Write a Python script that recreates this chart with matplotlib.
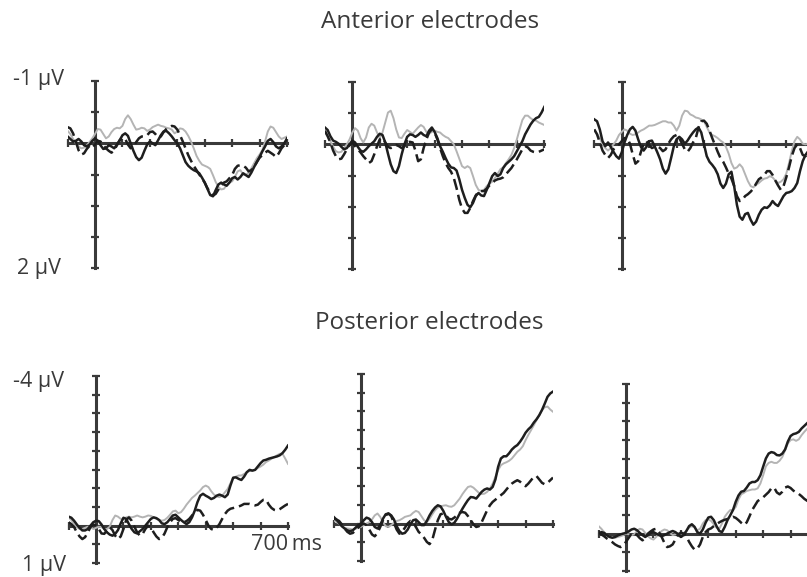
import numpy as np
import matplotlib
matplotlib.use("Agg")
import matplotlib.pyplot as plt

plt.rcParams['font.family'] = ['Open Sans', 'DejaVu Sans']

# time axis (ms), one sample every 10 ms
time_ms = np.arange(-100, 701, 10)

# ---- anterior electrodes (uV, negative plotted up) ----
ant1_solid = [-0.11, -0.07, -0.03, -0.04, -0.07, -0.03, 0.03, 0.05, 0.02, -0.04,
              -0.08, -0.04, 0.03, 0.09, 0.08, 0.03, 0.05, 0.08, 0.02, -0.05,
              -0.13, -0.16, -0.12, 0.0, 0.12, 0.22, 0.27, 0.23, 0.12, 0.02,
              -0.03, 0.0, 0.03, -0.05, -0.13, -0.19, -0.2, -0.16, -0.11, -0.05,
              0.0, 0.08, 0.19, 0.3, 0.36, 0.4, 0.43, 0.45, 0.48, 0.55,
              0.63, 0.73, 0.83, 0.85, 0.75, 0.66, 0.63, 0.66, 0.68, 0.63,
              0.56, 0.54, 0.58, 0.54, 0.48, 0.51, 0.54, 0.47, 0.38, 0.3,
              0.22, 0.13, 0.05, -0.04, -0.07, -0.02, 0.05, 0.08, 0.05, 0.0, -0.08]
ant1_dash = [-0.26, -0.24, -0.16, -0.03, 0.11, 0.18, 0.16, 0.09, 0.04, 0.07,
             0.02, -0.04, -0.03, 0.03, 0.08, 0.12, 0.15, 0.11, 0.03, -0.05,
             -0.09, -0.07, 0.02, 0.08, 0.05, -0.02, -0.08, -0.11, -0.11, -0.13,
             -0.18, -0.19, -0.15, -0.09, -0.11, -0.18, -0.23, -0.26, -0.28, -0.27,
             -0.22, -0.13, -0.03, 0.08, 0.19, 0.28, 0.36, 0.43, 0.5, 0.56,
             0.63, 0.72, 0.79, 0.84, 0.81, 0.74, 0.67, 0.63, 0.61, 0.56,
             0.51, 0.41, 0.36, 0.35, 0.36, 0.39, 0.45, 0.43, 0.38, 0.3,
             0.23, 0.19, 0.15, 0.12, 0.15, 0.18, 0.22, 0.16, 0.08, 0.03, -0.03]
ant1_grey = [-0.2, -0.15, -0.07, 0.0, 0.05, 0.08, 0.07, 0.03, -0.02, -0.08,
             -0.15, -0.23, -0.22, -0.15, -0.08, -0.11, -0.18, -0.23, -0.25, -0.24,
             -0.28, -0.39, -0.45, -0.39, -0.3, -0.22, -0.23, -0.25, -0.24, -0.2,
             -0.22, -0.26, -0.28, -0.3, -0.28, -0.27, -0.25, -0.24, -0.22, -0.16,
             -0.19, -0.24, -0.23, -0.19, -0.12, -0.03, 0.08, 0.2, 0.28, 0.34,
             0.36, 0.38, 0.41, 0.51, 0.62, 0.7, 0.74, 0.73, 0.67, 0.63,
             0.61, 0.54, 0.45, 0.43, 0.5, 0.51, 0.47, 0.4, 0.32, 0.24,
             0.18, 0.11, -0.03, -0.19, -0.27, -0.25, -0.18, -0.11, -0.07, -0.09, -0.11]

ant2_solid = [-0.27, -0.23, -0.13, -0.06, -0.04, -0.01, 0.04, 0.08, 0.06, 0.0,
              -0.06, -0.03, 0.04, 0.1, 0.12, 0.08, 0.03, -0.01, -0.05, -0.12,
              -0.17, -0.15, -0.03, 0.15, 0.32, 0.43, 0.46, 0.35, 0.16, 0.0,
              -0.12, -0.16, -0.15, -0.12, -0.15, -0.19, -0.15, -0.13, -0.22, -0.27,
              -0.2, -0.1, 0.03, 0.12, 0.22, 0.31, 0.37, 0.38, 0.42, 0.56,
              0.73, 0.86, 0.97, 1.01, 0.94, 0.83, 0.78, 0.82, 0.83, 0.73,
              0.62, 0.51, 0.46, 0.51, 0.48, 0.38, 0.32, 0.28, 0.24, 0.19,
              0.11, 0.03, -0.05, -0.16, -0.24, -0.32, -0.38, -0.42, -0.44, -0.51, -0.6]
ant2_dash = [-0.22, -0.13, -0.03, 0.1, 0.19, 0.24, 0.23, 0.16, 0.08, 0.01,
             -0.03, 0.03, 0.08, 0.13, 0.19, 0.24, 0.3, 0.27, 0.16, 0.03,
             -0.08, -0.1, -0.03, 0.04, 0.06, 0.04, 0.01, 0.03, 0.06, 0.03,
             -0.03, -0.04, -0.03, 0.1, 0.27, 0.24, 0.06, -0.08, -0.19, -0.24,
             -0.19, -0.08, 0.06, 0.19, 0.3, 0.38, 0.44, 0.54, 0.7, 0.89,
             1.03, 1.1, 1.1, 1.02, 0.91, 0.82, 0.76, 0.75, 0.75, 0.71,
             0.66, 0.62, 0.58, 0.56, 0.55, 0.53, 0.48, 0.43, 0.38, 0.31,
             0.24, 0.16, 0.08, 0.03, 0.05, 0.1, 0.12, 0.13, 0.12, 0.1, 0.08]
ant2_grey = [-0.19, -0.13, -0.05, 0.04, 0.11, 0.13, 0.12, 0.06, 0.0, -0.08,
             -0.19, -0.26, -0.22, -0.1, -0.03, -0.11, -0.27, -0.33, -0.3, -0.19,
             -0.1, -0.19, -0.35, -0.51, -0.54, -0.42, -0.24, -0.11, -0.1, -0.17,
             -0.23, -0.2, -0.17, -0.22, -0.27, -0.31, -0.28, -0.2, -0.17, -0.2,
             -0.22, -0.2, -0.19, -0.15, -0.12, -0.1, -0.05, 0.0, 0.11, 0.23,
             0.35, 0.38, 0.35, 0.38, 0.51, 0.65, 0.73, 0.75, 0.73, 0.67,
             0.63, 0.6, 0.54, 0.47, 0.4, 0.37, 0.3, 0.24, 0.17, 0.06,
             -0.08, -0.24, -0.39, -0.46, -0.46, -0.42, -0.39, -0.38, -0.35, -0.33, -0.31]

ant3_solid = [-0.4, -0.37, -0.24, -0.05, 0.03, -0.03, 0.04, 0.12, 0.19, 0.23,
              0.13, -0.03, -0.15, -0.24, -0.28, -0.22, -0.08, 0.04, 0.1, 0.04,
              -0.05, -0.06, 0.03, 0.13, 0.24, 0.39, 0.47, 0.4, 0.22, 0.03,
              -0.08, -0.12, -0.08, -0.01, -0.06, -0.13, -0.19, -0.24, -0.27, -0.19,
              0.0, 0.19, 0.28, 0.33, 0.39, 0.48, 0.63, 0.7, 0.63, 0.48,
              0.44, 0.67, 0.97, 1.16, 1.21, 1.12, 1.1, 1.21, 1.29, 1.24,
              1.13, 1.05, 1.01, 1.02, 0.98, 0.91, 0.96, 0.99, 0.91, 0.83,
              0.78, 0.77, 0.75, 0.7, 0.62, 0.43, 0.27, 0.17, 0.11, 0.06, 0.03]
ant3_dash = [-0.24, -0.16, -0.03, 0.1, 0.17, 0.22, 0.17, 0.08, 0.04, 0.0,
             -0.05, -0.1, -0.1, -0.01, 0.16, 0.31, 0.27, 0.12, -0.01, -0.05,
             0.01, 0.06, 0.04, 0.03, 0.06, 0.11, 0.08, -0.01, -0.08, -0.13,
             -0.15, -0.1, -0.01, 0.08, 0.12, 0.06, -0.03, -0.1, -0.27, -0.37,
             -0.38, -0.33, -0.22, -0.1, 0.01, 0.12, 0.22, 0.28, 0.37, 0.47,
             0.55, 0.67, 0.83, 0.91, 0.89, 0.83, 0.8, 0.76, 0.71, 0.63,
             0.56, 0.53, 0.49, 0.43, 0.43, 0.49, 0.58, 0.66, 0.73, 0.67,
             0.53, 0.37, 0.19, 0.06, 0.0, 0.06, 0.17, 0.19, 0.16, 0.11, 0.06]
ant3_grey = [-0.22, -0.17, -0.1, 0.0, 0.06, 0.1, 0.06, 0.0, -0.06, -0.15,
             -0.2, -0.24, -0.22, -0.17, -0.15, -0.16, -0.19, -0.22, -0.24, -0.27,
             -0.3, -0.3, -0.31, -0.33, -0.35, -0.37, -0.37, -0.35, -0.35, -0.3,
             -0.22, -0.3, -0.46, -0.54, -0.53, -0.48, -0.46, -0.43, -0.42, -0.4,
             -0.37, -0.28, -0.19, -0.15, -0.13, -0.1, -0.06, -0.03, 0.04, 0.15,
             0.3, 0.39, 0.37, 0.32, 0.37, 0.48, 0.59, 0.67, 0.69, 0.65,
             0.62, 0.58, 0.55, 0.54, 0.51, 0.53, 0.58, 0.62, 0.6, 0.56,
             0.47, 0.3, 0.11, -0.05, -0.12, -0.08, -0.01, 0.0, -0.01, -0.03, -0.04]

# ---- posterior electrodes ----
post1_solid = [-0.24, -0.21, -0.13, -0.03, 0.06, 0.13, 0.13, 0.09, 0.0, -0.09,
               -0.13, -0.12, -0.03, 0.09, 0.18, 0.24, 0.27, 0.22, 0.12, -0.06,
               -0.21, -0.18, -0.04, 0.09, 0.18, 0.21, 0.15, 0.09, 0.0, -0.09,
               -0.18, -0.22, -0.2, -0.15, -0.06, -0.04, -0.09, -0.18, -0.27, -0.29,
               -0.22, -0.15, -0.09, -0.04, -0.09, -0.22, -0.4, -0.63, -0.8, -0.85,
               -0.8, -0.76, -0.71, -0.74, -0.8, -0.83, -0.8, -0.76, -0.83, -1.07,
               -1.28, -1.29, -1.25, -1.22, -1.31, -1.43, -1.49, -1.47, -1.49, -1.58,
               -1.67, -1.74, -1.76, -1.79, -1.81, -1.83, -1.85, -1.88, -1.94, -2.03, -2.14]
post1_dash = [-0.09, -0.04, 0.04, 0.18, 0.29, 0.36, 0.31, 0.18, 0.04, -0.03,
              0.0, 0.09, 0.21, 0.22, 0.13, 0.04, 0.12, 0.27, 0.36, 0.29,
              0.09, -0.15, -0.22, -0.13, 0.03, 0.18, 0.27, 0.22, 0.09, 0.0,
              0.04, 0.18, 0.29, 0.36, 0.33, 0.21, 0.04, -0.09, -0.18, -0.2,
              -0.15, -0.1, -0.09, -0.12, -0.18, -0.27, -0.36, -0.42, -0.4, -0.29,
              -0.15, 0.0, 0.09, 0.12, 0.06, -0.04, -0.18, -0.31, -0.4, -0.45,
              -0.47, -0.49, -0.51, -0.54, -0.58, -0.58, -0.58, -0.56, -0.54, -0.56,
              -0.63, -0.69, -0.69, -0.56, -0.47, -0.42, -0.4, -0.44, -0.49, -0.54, -0.58]
post1_grey = [-0.22, -0.15, -0.04, 0.04, 0.09, 0.09, 0.06, 0.03, 0.04, 0.09,
              0.06, 0.03, 0.04, 0.09, 0.09, 0.03, -0.15, -0.27, -0.24, -0.18,
              -0.18, -0.22, -0.24, -0.22, -0.24, -0.27, -0.24, -0.22, -0.24, -0.27,
              -0.26, -0.22, -0.18, -0.15, -0.13, -0.15, -0.21, -0.29, -0.38, -0.4,
              -0.33, -0.36, -0.45, -0.56, -0.65, -0.74, -0.8, -0.87, -0.94, -1.03,
              -1.07, -1.03, -0.92, -0.83, -0.78, -0.76, -0.8, -0.89, -0.98, -1.13,
              -1.28, -1.31, -1.34, -1.34, -1.38, -1.43, -1.46, -1.47, -1.49, -1.54,
              -1.58, -1.63, -1.7, -1.74, -1.79, -1.83, -1.88, -1.92, -1.92, -1.79, -1.65]

post2_solid = [-0.18, -0.11, -0.02, 0.07, 0.13, 0.18, 0.2, 0.18, 0.11, 0.04,
               0.0, -0.09, -0.16, -0.13, -0.04, 0.09, 0.13, 0.04, -0.13, -0.25,
               -0.27, -0.22, -0.11, 0.07, 0.2, 0.27, 0.25, 0.16, 0.02, -0.09,
               -0.11, -0.04, 0.04, 0.04, -0.07, -0.22, -0.34, -0.43, -0.49, -0.46,
               -0.34, -0.18, -0.04, 0.02, -0.02, -0.13, -0.27, -0.4, -0.52, -0.63,
               -0.71, -0.7, -0.67, -0.76, -0.85, -0.91, -0.94, -0.91, -0.98, -1.18,
               -1.52, -1.74, -1.8, -1.8, -1.88, -1.98, -2.05, -2.1, -2.19, -2.3,
               -2.43, -2.52, -2.59, -2.7, -2.79, -2.9, -3.04, -3.21, -3.39, -3.48, -3.53]
post2_dash = [-0.13, -0.11, -0.07, 0.02, 0.13, 0.22, 0.27, 0.25, 0.18, 0.11,
              0.04, 0.0, 0.04, 0.16, 0.29, 0.34, 0.25, 0.09, -0.09, -0.22,
              -0.27, -0.2, -0.02, 0.16, 0.27, 0.22, 0.11, 0.0, -0.07, -0.04,
              0.09, 0.22, 0.29, 0.38, 0.49, 0.55, 0.43, 0.16, -0.09, -0.25,
              -0.27, -0.22, -0.13, -0.11, -0.16, -0.22, -0.29, -0.31, -0.29, -0.2,
              -0.09, 0.02, 0.09, 0.07, -0.04, -0.2, -0.36, -0.49, -0.58, -0.64,
              -0.7, -0.76, -0.82, -0.91, -1.0, -1.07, -1.12, -1.16, -1.12, -1.05,
              -1.0, -1.07, -1.16, -1.25, -1.27, -1.18, -1.09, -1.05, -1.09, -1.16, -1.23]
post2_grey = [-0.09, -0.04, 0.0, 0.07, 0.11, 0.13, 0.14, 0.16, 0.14, 0.11,
              0.09, 0.04, 0.0, -0.04, -0.11, -0.22, -0.27, -0.18, -0.04, 0.07,
              0.09, 0.04, -0.02, -0.07, -0.09, -0.13, -0.18, -0.2, -0.22, -0.29,
              -0.34, -0.31, -0.2, -0.09, -0.04, -0.13, -0.25, -0.36, -0.43, -0.46,
              -0.48, -0.49, -0.46, -0.45, -0.49, -0.58, -0.67, -0.79, -0.89, -0.98,
              -1.0, -0.96, -0.89, -0.82, -0.79, -0.8, -0.85, -0.94, -1.07, -1.25,
              -1.43, -1.56, -1.61, -1.64, -1.68, -1.74, -1.83, -1.92, -1.98, -2.07,
              -2.23, -2.37, -2.5, -2.63, -2.77, -2.9, -3.04, -3.11, -3.13, -3.05, -2.99]

post3_solid = [0.0, -0.04, -0.02, 0.04, 0.09, 0.11, 0.09, 0.05, 0.02, 0.0,
               -0.02, -0.06, -0.11, -0.13, -0.09, -0.02, 0.04, 0.09, 0.04, -0.02,
               -0.04, 0.0, 0.04, 0.07, 0.04, 0.0, -0.04, -0.07, -0.04, 0.02,
               0.09, 0.04, -0.07, -0.2, -0.25, -0.18, -0.04, 0.0, -0.11, -0.29,
               -0.43, -0.45, -0.36, -0.2, -0.07, -0.04, -0.18, -0.36, -0.49, -0.63,
               -0.85, -1.02, -1.12, -1.14, -1.23, -1.34, -1.38, -1.38, -1.43, -1.56,
               -1.79, -2.01, -2.14, -2.18, -2.16, -2.1, -2.09, -2.14, -2.25, -2.46,
               -2.61, -2.66, -2.68, -2.72, -2.81, -2.88, -2.95, -3.02, -3.08, -3.14, -3.2]
post3_dash = [-0.04, 0.02, 0.07, 0.13, 0.18, 0.23, 0.29, 0.33, 0.36, 0.31,
              0.22, 0.11, 0.0, -0.03, 0.04, 0.12, 0.18, 0.11, 0.0, -0.06,
              -0.11, -0.13, -0.04, 0.09, 0.25, 0.36, 0.34, 0.29, 0.16, 0.04,
              -0.03, 0.0, 0.07, 0.22, 0.34, 0.43, 0.4, 0.29, 0.09, -0.04,
              -0.11, -0.14, -0.2, -0.25, -0.3, -0.34, -0.37, -0.39, -0.42, -0.45,
              -0.42, -0.36, -0.29, -0.23, -0.3, -0.46, -0.63, -0.75, -0.87, -0.92,
              -0.97, -1.04, -1.11, -1.21, -1.23, -1.1, -1.05, -1.12, -1.23, -1.26,
              -1.22, -1.15, -1.1, -1.06, -1.0, -0.93, -0.88, -0.84, -0.82, -0.8, -0.79]
post3_grey = [-0.2, -0.13, -0.04, 0.04, 0.09, 0.11, 0.11, 0.09, 0.07, 0.04,
              0.0, 0.02, 0.04, 0.02, -0.07, -0.13, -0.11, -0.02, 0.07, 0.13,
              0.16, 0.09, 0.0, -0.07, -0.11, -0.09, -0.02, 0.04, 0.02, -0.02,
              0.0, -0.02, -0.07, -0.16, -0.2, -0.16, -0.09, -0.13, -0.27, -0.36,
              -0.38, -0.34, -0.25, -0.16, -0.13, -0.27, -0.45, -0.55, -0.63, -0.63,
              -0.71, -0.91, -1.05, -1.09, -1.14, -1.16, -1.18, -1.18, -1.21, -1.34,
              -1.56, -1.8, -1.89, -1.92, -1.89, -1.89, -1.95, -2.05, -2.23, -2.41,
              -2.5, -2.52, -2.48, -2.52, -2.63, -2.72, -2.8, -2.86, -2.91, -2.96, -3.02]

W, H = 807, 577
fig = plt.figure(figsize=(W / 100, H / 100), dpi=100)

AX_COLOR = '#3a3a3a'


def make_panel(left, top, right, bottom, ylim, ystep, solid, dash, grey):
    ax = fig.add_axes([left / W, 1 - bottom / H, (right - left) / W, (bottom - top) / H])
    ax.set_facecolor('none')
    ax.plot(time_ms, grey, color='#b4b4b4', lw=1.4, zorder=3)
    ax.plot(time_ms, dash, color='#1e1e1e', lw=1.8, ls=(0, (4.5, 2.0)), zorder=4)
    ax.plot(time_ms, solid, color='#1e1e1e', lw=1.8, zorder=5)
    ax.set_xlim(-100, 700)
    ax.set_ylim(ylim[1], ylim[0])
    for side in ['top', 'right']:
        ax.spines[side].set_visible(False)
    for side in ['left', 'bottom']:
        ax.spines[side].set_position(('data', 0))
        ax.spines[side].set_linewidth(2.2)
        ax.spines[side].set_color(AX_COLOR)
        ax.spines[side].set_zorder(2)
    ax.set_xticks(np.arange(-100, 701, 100))
    ax.set_yticks(np.arange(ylim[0], ylim[1] + 0.01, ystep))
    ax.tick_params(direction='inout', length=6, width=1.6, color=AX_COLOR,
                   labelleft=False, labelbottom=False)
    return ax


# top row: -1 .. 2 uV
make_panel(67.6, 81, 287, 268, (-1, 2), 0.5, ant1_solid, ant1_dash, ant1_grey)
make_panel(324.9, 82, 544.3, 269, (-1, 2), 0.5, ant2_solid, ant2_dash, ant2_grey)
make_panel(594.3, 82, 813.7, 269, (-1, 2), 0.5, ant3_solid, ant3_dash, ant3_grey)
# bottom row: -4 .. 1 uV
make_panel(68.6, 376, 288, 563, (-4, 1), 0.5, post1_solid, post1_dash, post1_grey)
make_panel(333.6, 374, 553, 561, (-4, 1), 0.5, post2_solid, post2_dash, post2_grey)
make_panel(598.6, 384, 818, 571, (-4, 1), 0.5, post3_solid, post3_dash, post3_grey)


def txt(x, y, s, size=15.5, **kw):
    fig.text(x / W, 1 - y / H, s, fontsize=size, color='#3a3a3a', va='center', **kw)


txt(430, 22, 'Anterior electrodes', size=17.5, ha='center')
txt(429, 323, 'Posterior electrodes', size=17.5, ha='center')
txt(13, 80, '-1 µV', ha='left')
txt(17, 268, '2 µV', ha='left')
txt(13, 381, '-4 µV', ha='left')
txt(22, 566, '1 µV', ha='left')
txt(322, 545, '700\u2009ms', ha='right')

fig.savefig('out.png', dpi=100)
